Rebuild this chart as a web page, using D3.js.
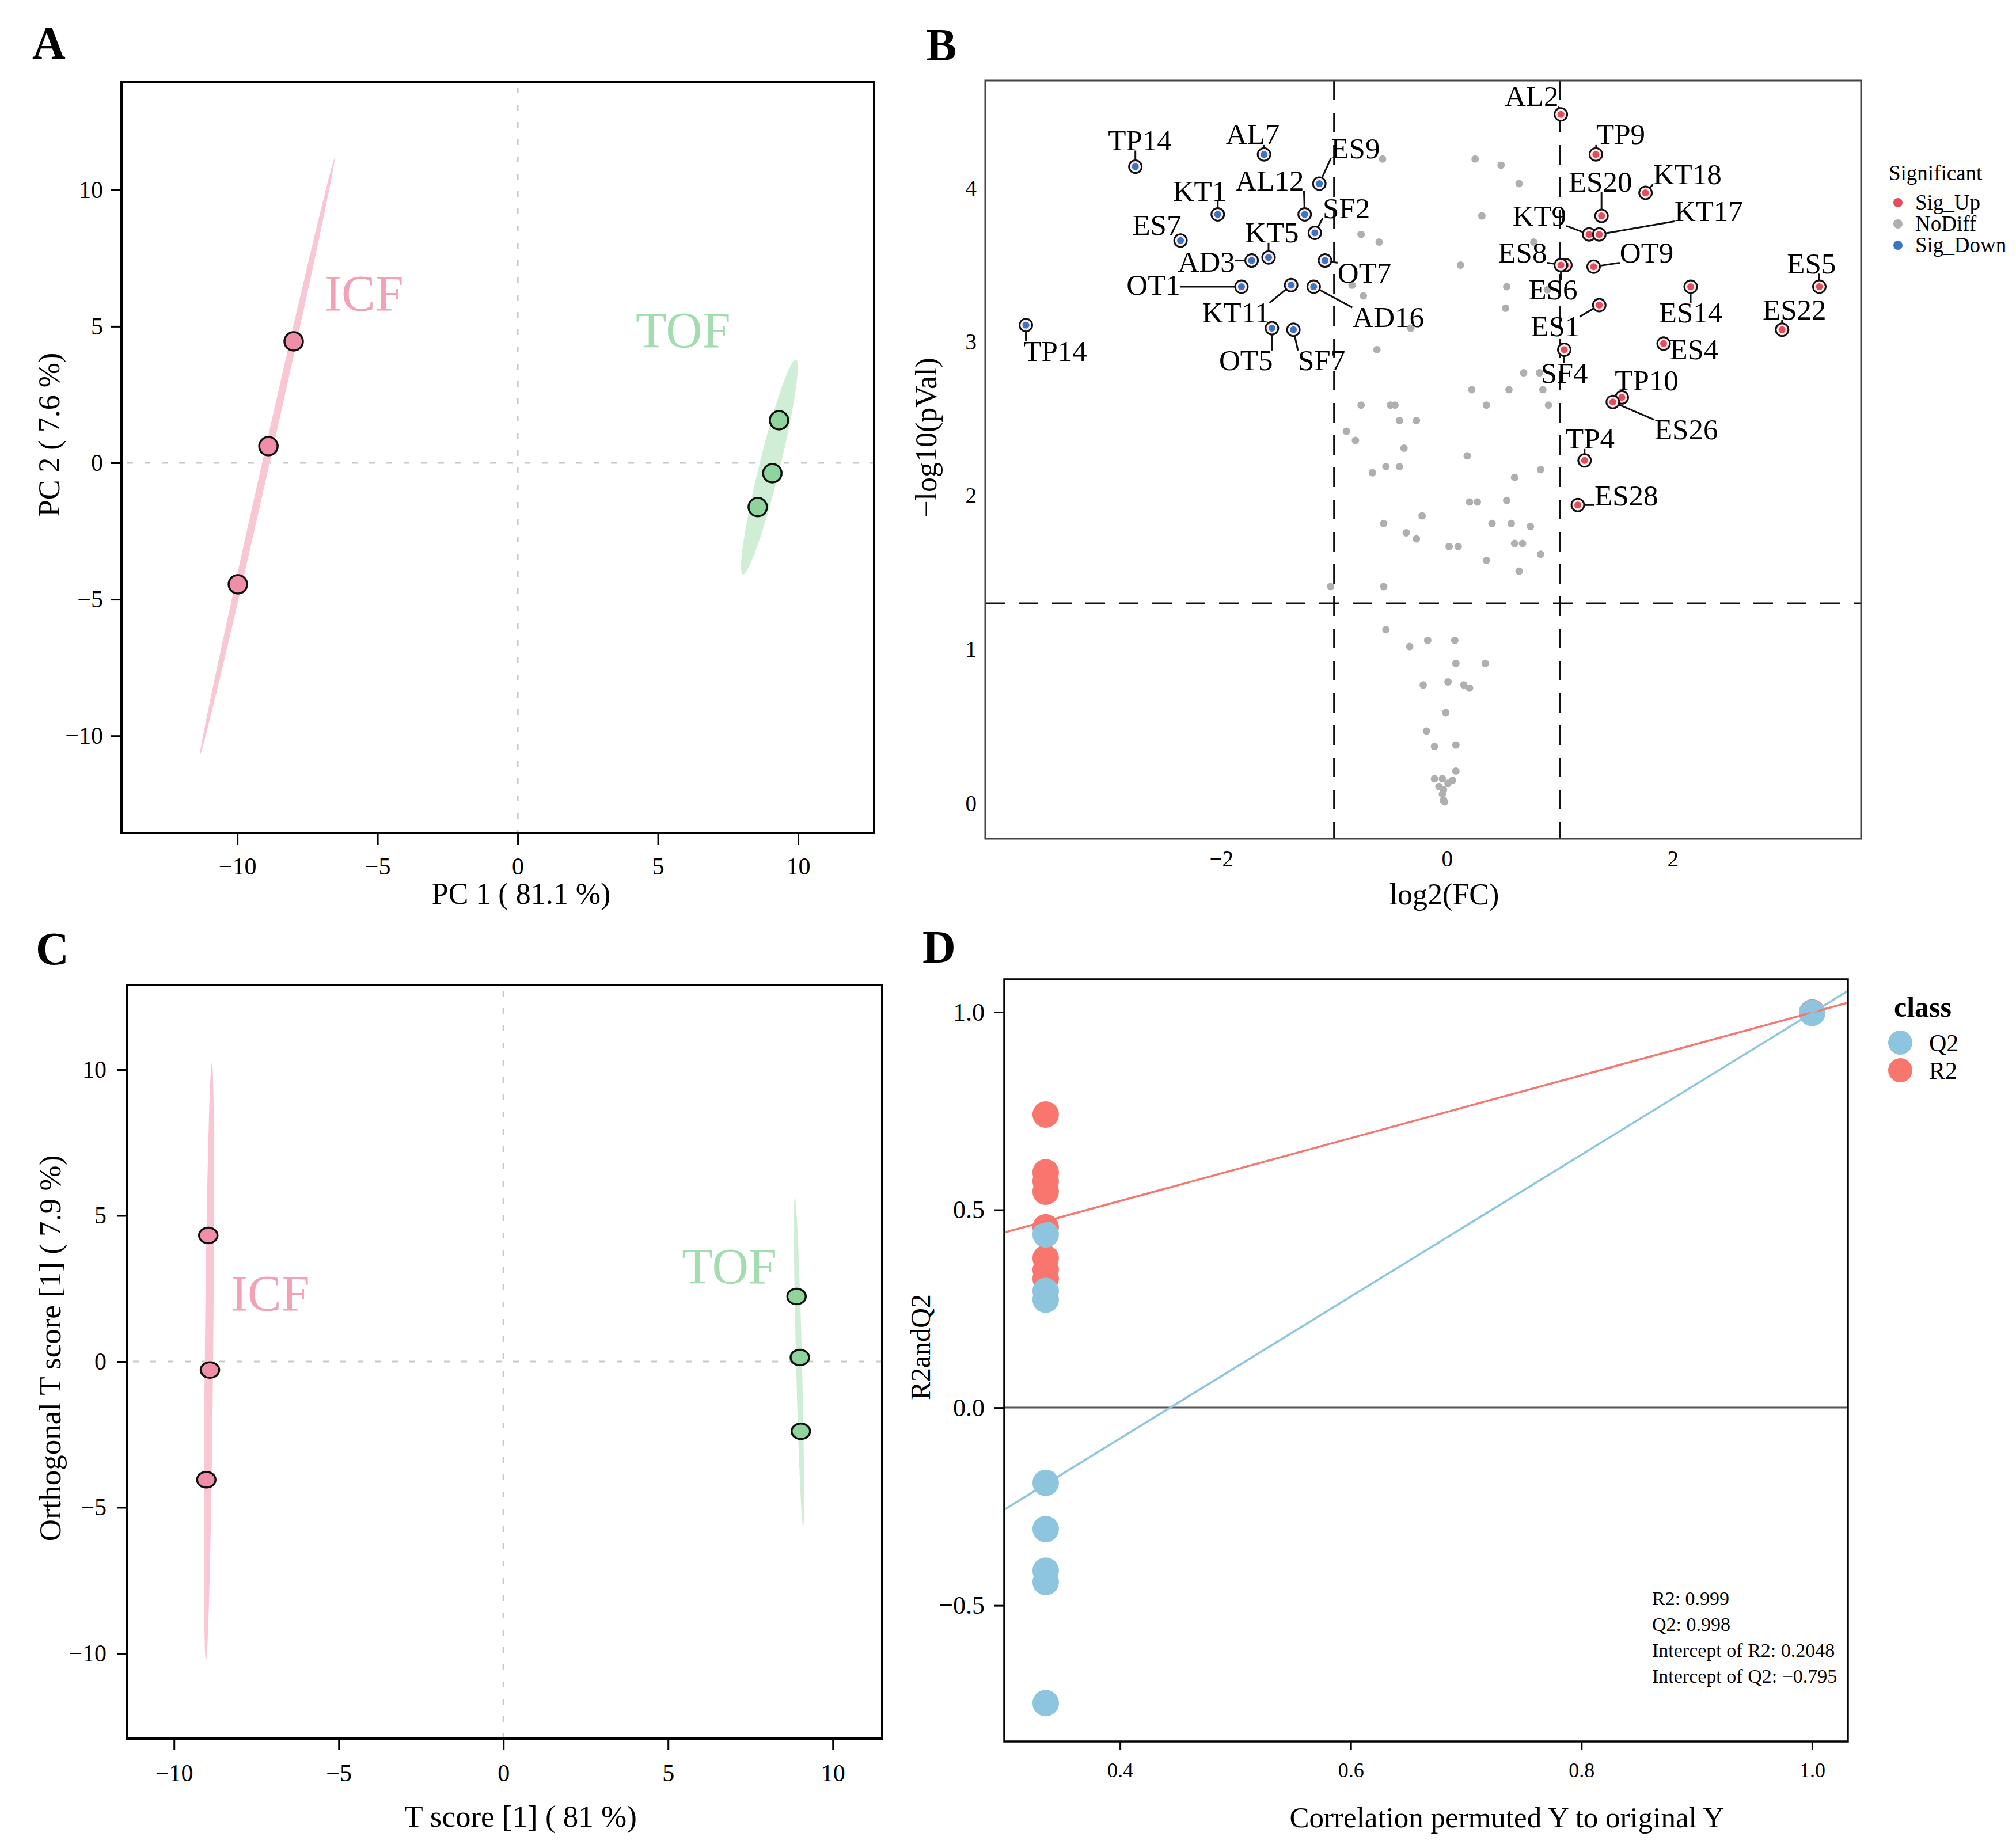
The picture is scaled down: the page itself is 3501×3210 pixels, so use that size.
<!DOCTYPE html>
<html>
<head>
<meta charset="utf-8">
<script src="https://cdn.jsdelivr.net/npm/d3@7"></script>
<style>
  body { margin: 0; background: #fff; }
  svg text { font-family: "Liberation Serif", "Times New Roman", serif; }
</style>
</head>
<body>
<svg id="fig"></svg>
<script>
/*
    DATA
*/

// A - PCA scores
var pcaGroup = ["ICF", "ICF", "ICF", "TOF", "TOF", "TOF"];
var pcaPC1 = [-7.99, -8.89, -9.98, 9.32, 9.08, 8.56];
var pcaPC2 = [4.45, 0.61, -4.45, 1.56, -0.38, -1.62];
// confidence ellipses: [x1, y1, x2, y2] ends of the long axis, plus half width in x units
var pcaEllipseEnds = [[-11.33, -10.7, -6.53, 11.16], [8.03, -4.09, 9.92, 3.78]];
var pcaEllipseHalfWidth = [0.135, 0.38];
var pcaLabelX = [-5.48, 5.9];
var pcaLabelY = [6.2, 4.87];
var pcaTicks = [-10, -5, 0, 5, 10];

// B - volcano plot
var sigNames = ["TP14", "AL7", "ES9", "KT1", "AL12", "ES7", "SF2", "KT5", "AD3", "OT7", "OT1", "KT11",
    "AD16", "TP14", "OT5", "SF7", "AL2", "TP9", "KT18", "ES20", "KT9", "KT17", "ES8", "ES6", "OT9",
    "ES14", "ES5", "ES1", "ES22", "ES4", "SF4", "TP10", "ES26", "TP4", "ES28"];
var sigFC = [-2.76, -1.62, -1.13, -2.03, -1.26, -2.36, -1.17, -1.58, -1.73, -1.08, -1.82, -1.38,
    -1.18, -3.73, -1.55, -1.36, 1.01, 1.32, 1.76, 1.37, 1.26, 1.35, 1.05, 1.01, 1.30,
    2.16, 3.30, 1.35, 2.97, 1.92, 1.04, 1.55, 1.47, 1.22, 1.16];
var sigP = [4.14, 4.22, 4.03, 3.83, 3.83, 3.66, 3.71, 3.55, 3.53, 3.53, 3.36, 3.37,
    3.36, 3.11, 3.09, 3.08, 4.48, 4.22, 3.97, 3.82, 3.70, 3.70, 3.50, 3.50, 3.49,
    3.36, 3.36, 3.24, 3.08, 2.99, 2.95, 2.64, 2.61, 2.23, 1.94];
// where the repelled labels sit (data units)
var labelFC = [-2.72, -1.72, -0.81, -2.19, -1.57, -2.57, -0.89, -1.55, -2.13, -0.73, -2.60, -1.87,
    -0.52, -3.47, -1.78, -1.11, 0.75, 1.54, 2.13, 1.36, 0.82, 2.32, 0.67, 0.94, 1.77,
    2.16, 3.23, 0.96, 3.08, 2.19, 1.04, 1.77, 2.12, 1.27, 1.59];
var labelP = [4.31, 4.35, 4.26, 3.98, 4.05, 3.76, 3.87, 3.71, 3.52, 3.45, 3.37, 3.19,
    3.16, 2.94, 2.88, 2.88, 4.60, 4.35, 4.09, 4.04, 3.82, 3.85, 3.58, 3.34, 3.58,
    3.19, 3.51, 3.10, 3.21, 2.95, 2.80, 2.75, 2.43, 2.37, 2.00];
var grayFC = [-0.57, 0.25, 0.48, 0.64, 0.31, -0.76, -0.60, 0.77, 0.12, 0.53, -0.84, -0.74, 0.52, -0.32, 0.89,
    -0.62, 0.68, 0.82, 0.22, 0.55, 0.85, -0.76, -0.50, -0.46, 0.35, 0.90, -0.42, -0.27, -0.89, -0.81,
    -0.38, 0.18, -0.54, -0.42, -0.66, 0.83, 0.60, 0.20, 0.27, 0.53, -0.22, -0.56, 0.40, 0.57, 0.74,
    -0.36, -0.27, 0.60, 0.67, 0.02, 0.10, 0.83, 0.35, 0.64, -1.03, -0.56,
    -0.54, -0.17, 0.07, -0.33, 0.08, 0.34, -0.21, 0.01, 0.15, 0.20, -0.01, -0.18, -0.11, 0.08,
    0.08, -0.11, -0.04, 0.05, 0.01, -0.07, -0.03, -0.04, -0.03, -0.02];
var grayP = [4.19, 4.19, 4.15, 4.03, 3.82, 3.70, 3.65, 3.65, 3.50, 3.36, 3.37, 3.30, 3.22, 3.09, 3.34,
    2.95, 2.80, 2.80, 2.69, 2.69, 2.69, 2.59, 2.59, 2.59, 2.59, 2.59, 2.49, 2.49, 2.42, 2.36,
    2.31, 2.26, 2.19, 2.19, 2.15, 2.17, 2.12, 1.96, 1.96, 1.97, 1.87, 1.82, 1.82, 1.82, 1.80,
    1.76, 1.72, 1.69, 1.69, 1.67, 1.67, 1.62, 1.58, 1.51, 1.41, 1.41,
    1.13, 1.06, 1.06, 1.02, 0.91, 0.91, 0.77, 0.79, 0.77, 0.75, 0.59, 0.47, 0.37, 0.38,
    0.21, 0.16, 0.16, 0.15, 0.13, 0.11, 0.09, 0.06, 0.02, 0.01];
var volcanoXTicks = [-2, 0, 2];
var volcanoYTicks = [0, 1, 2, 3, 4];
var fcCut = [-1, 1];
var pCut = 1.3;
var sigLevels = ["Sig_Up", "NoDiff", "Sig_Down"];

// C - OPLS-DA scores
var oplsGroup = ["ICF", "ICF", "ICF", "TOF", "TOF", "TOF"];
var oplsT = [-8.96, -8.91, -9.02, 8.90, 9.00, 9.03];
var oplsOrtho = [4.32, -0.29, -4.05, 2.23, 0.14, -2.39];
var oplsEllipseEnds = [[-9.03, -10.24, -8.85, 10.23], [9.10, -5.67, 8.85, 5.63]];
var oplsEllipseHalfWidth = [0.126, 0.09];
var oplsLabelX = [-7.08, 6.86];
var oplsLabelY = [2.33, 3.27];

// D - permutation test
var r2Corr = [1.0, 0.3355, 0.3355, 0.3355, 0.3355, 0.3355, 0.3355, 0.3355, 0.3355];
var r2Vals = [0.999, 0.741, 0.595, 0.572, 0.546, 0.456, 0.378, 0.348, 0.326];
var q2Corr = [1.0, 0.3355, 0.3355, 0.3355, 0.3355, 0.3355, 0.3355, 0.3355, 0.3355];
var q2Vals = [0.998, 0.438, 0.295, 0.273, -0.19, -0.307, -0.412, -0.441, -0.747];
var r2Model = 0.999, q2Model = 0.998;
var r2Intercept = 0.2048, q2Intercept = -0.795;
var permXTicks = [0.4, 0.6, 0.8, 1.0];
var permYTicks = [-0.5, 0.0, 0.5, 1.0];

/*
    STYLE
*/
var FONT = "'Liberation Serif', 'Times New Roman', serif";
var groupFill = {ICF: "#EF8EA6", TOF: "#8ED49C"};
var groupEllipse = {ICF: "#F9C6D3", TOF: "#D0EED5"};
var groupText = {ICF: "#F3A2B6", TOF: "#A3DCAE"};
var sigColor = {Sig_Up: "#E64B5E", NoDiff: "#AFAFAF", Sig_Down: "#3A76C4"};
var permColor = {Q2: "#8EC5DE", R2: "#F8766D"};

var svg = d3.select("#fig")
    .attr("width", 3501)
    .attr("height", 3210)
    .style("font-family", FONT);

svg.append("rect").attr("width", 3501).attr("height", 3210).attr("fill", "#fff");

function styleAxis(sel, size) {
    sel.attr("font-family", null).attr("font-size", null);
    sel.select(".domain").remove();
    sel.selectAll(".tick line").attr("stroke", "#000").attr("stroke-width", 3);
    sel.selectAll(".tick text")
        .style("font-family", FONT)
        .style("font-size", size + "px")
        .attr("fill", "#000");
}

function panelLetter(txt, x, y) {
    svg.append("text")
        .attr("x", x).attr("y", y)
        .attr("font-size", 80)
        .attr("font-weight", "bold")
        .text(txt);
}

function axisTitle(txt, x, y, size, rotate) {
    var t = svg.append("text")
        .attr("text-anchor", "middle")
        .attr("dominant-baseline", "central")
        .attr("font-size", size)
        .text(txt);
    if (rotate) t.attr("transform", "translate(" + x + "," + y + ") rotate(-90)");
    else t.attr("x", x).attr("y", y);
}

/*
    SCORE PLOTS (A and C share this)
*/
function scorePlot(o) {
    var w = o.box[2] - o.box[0], h = o.box[3] - o.box[1];
    var g = svg.append("g").attr("transform", "translate(" + o.box[0] + "," + o.box[1] + ")");

    var x = d3.scaleLinear().domain(o.xDom).range([0, w]);
    var y = d3.scaleLinear().domain(o.yDom).range([h, 0]);

    // zero lines
    g.append("line")
        .attr("x1", x(0)).attr("x2", x(0)).attr("y1", 10).attr("y2", h)
        .attr("stroke", "#c8c8c8").attr("stroke-width", 3).attr("stroke-dasharray", "10,20");
    g.append("line")
        .attr("x1", 10).attr("x2", w).attr("y1", y(0)).attr("y2", y(0))
        .attr("stroke", "#c8c8c8").attr("stroke-width", 3).attr("stroke-dasharray", "10,20");

    // ellipses
    o.ellEnds.forEach(function(e, i) {
        var x1 = x(e[0]), y1 = y(e[1]), x2 = x(e[2]), y2 = y(e[3]);
        var cx = (x1 + x2) / 2, cy = (y1 + y2) / 2;
        var ang = Math.atan2(y2 - y1, x2 - x1);
        var a = Math.hypot(x2 - x1, y2 - y1) / 2;
        var hw = (x(o.ellHw[i]) - x(0));
        var b = hw * Math.abs(Math.sin(ang));
        g.append("ellipse")
            .attr("cx", cx).attr("cy", cy)
            .attr("rx", a).attr("ry", b)
            .attr("transform", "rotate(" + (ang * 180 / Math.PI) + "," + cx + "," + cy + ")")
            .attr("fill", groupEllipse[o.ellGroups[i]]);
    });

    // points
    g.selectAll("ellipse.pt")
        .data(o.xs.map(function(v, i) { return {x: v, y: o.ys[i], grp: o.groups[i]}; }))
        .enter().append("ellipse")
        .attr("class", "pt")
        .attr("cx", function(d) { return x(d.x); })
        .attr("cy", function(d) { return y(d.y); })
        .attr("rx", o.ptR[0]).attr("ry", o.ptR[1])
        .attr("fill", function(d) { return groupFill[d.grp]; })
        .attr("stroke", "#111").attr("stroke-width", 3.5);

    // group labels
    o.ellGroups.forEach(function(grp, i) {
        g.append("text")
            .attr("x", x(o.labX[i])).attr("y", y(o.labY[i]))
            .attr("text-anchor", "middle")
            .attr("dominant-baseline", "central")
            .attr("font-size", 88)
            .attr("fill", groupText[grp])
            .text(grp);
    });

    // axes
    g.append("g")
        .attr("transform", "translate(0," + h + ")")
        .call(d3.axisBottom(x).tickValues(o.ticks).tickSize(20).tickPadding(o.xPad))
        .call(styleAxis, 42);
    g.append("g")
        .call(d3.axisLeft(y).tickValues(o.ticks).tickSize(18).tickPadding(o.yPad))
        .call(styleAxis, 42);

    g.append("rect")
        .attr("width", w).attr("height", h)
        .attr("fill", "none").attr("stroke", "#000").attr("stroke-width", 4);
}

/*
    PANEL A
*/
panelLetter("A", 56, 102);
scorePlot({
    box: [211, 142, 1518, 1447],
    xDom: [-14.13, 12.71], yDom: [-13.56, 13.96],
    xs: pcaPC1, ys: pcaPC2, groups: pcaGroup,
    ellEnds: pcaEllipseEnds, ellHw: pcaEllipseHalfWidth, ellGroups: ["ICF", "TOF"],
    labX: pcaLabelX, labY: pcaLabelY,
    ticks: pcaTicks, xPad: 22, yPad: 14, ptR: [16, 16]
});
axisTitle("PC 1 ( 81.1 %)", 905, 1552, 52, false);
axisTitle("PC 2 ( 7.6 %)", 85, 755, 52, true);

/*
    PANEL B - volcano
*/
panelLetter("B", 1608, 105);
(function() {
    var box = [1711, 140, 3232, 1457];
    var w = box[2] - box[0], h = box[3] - box[1];
    var g = svg.append("g").attr("transform", "translate(" + box[0] + "," + box[1] + ")");

    var x = d3.scaleLinear().domain([-4.09, 3.67]).range([0, w]);
    var y = d3.scaleLinear().domain([-0.23, 4.70]).range([h, 0]);

    // NoDiff points
    g.selectAll("circle.nd")
        .data(grayFC.map(function(v, i) { return {fc: v, p: grayP[i]}; }))
        .enter().append("circle")
        .attr("class", "nd")
        .attr("cx", function(d) { return x(d.fc); })
        .attr("cy", function(d) { return y(d.p); })
        .attr("r", 6.5)
        .attr("fill", sigColor.NoDiff);

    // thresholds
    fcCut.forEach(function(c) {
        g.append("line")
            .attr("x1", x(c)).attr("x2", x(c)).attr("y1", 0).attr("y2", h)
            .attr("stroke", "#111").attr("stroke-width", 3).attr("stroke-dasharray", "34,22");
    });
    g.append("line")
        .attr("x1", 0).attr("x2", w).attr("y1", y(pCut)).attr("y2", y(pCut))
        .attr("stroke", "#111").attr("stroke-width", 3.5).attr("stroke-dasharray", "34,24");

    var sig = sigNames.map(function(n, i) {
        return {name: n, fc: sigFC[i], p: sigP[i], lx: labelFC[i], ly: labelP[i],
                cls: sigFC[i] > 0 ? "Sig_Up" : "Sig_Down"};
    });

    var ringR = 11;
    var segs = g.append("g");
    var ptsG = g.append("g");
    var labs = g.append("g");

    // labels first so their boxes can be measured for the leader lines
    sig.forEach(function(d) {
        var px = x(d.fc), py = y(d.p);
        var t = labs.append("text")
            .attr("x", x(d.lx)).attr("y", y(d.ly))
            .attr("text-anchor", "middle")
            .attr("dominant-baseline", "central")
            .attr("font-size", 51)
            .text(d.name);
        var bb = t.node().getBBox();
        var top = y(d.ly) - 0.34 * 51, bot = y(d.ly) + 0.34 * 51;
        var qx = Math.max(bb.x, Math.min(px, bb.x + bb.width));
        var qy = Math.max(top, Math.min(py, bot));
        var dist = Math.hypot(qx - px, qy - py);
        if (dist > ringR + 4) {
            var ux = (qx - px) / dist, uy = (qy - py) / dist;
            segs.append("line")
                .attr("x1", px + ux * ringR).attr("y1", py + uy * ringR)
                .attr("x2", qx).attr("y2", qy)
                .attr("stroke", "#111").attr("stroke-width", 3);
        }
    });

    sig.forEach(function(d) {
        ptsG.append("circle")
            .attr("cx", x(d.fc)).attr("cy", y(d.p)).attr("r", ringR)
            .attr("fill", "#fbe9ec").attr("stroke", "#111").attr("stroke-width", 3);
        ptsG.append("circle")
            .attr("cx", x(d.fc)).attr("cy", y(d.p)).attr("r", 6)
            .attr("fill", sigColor[d.cls]);
    });

    g.append("g")
        .attr("transform", "translate(0," + h + ")")
        .call(d3.axisBottom(x).tickValues(volcanoXTicks).tickSize(0).tickPadding(20))
        .call(styleAxis, 39);
    g.append("g")
        .call(d3.axisLeft(y).tickValues(volcanoYTicks).tickSize(0).tickPadding(15).tickFormat(d3.format("d")))
        .call(styleAxis, 39);

    g.append("rect")
        .attr("width", w).attr("height", h)
        .attr("fill", "none").attr("stroke", "#444").attr("stroke-width", 3);

    // legend
    var lg = svg.append("g");
    lg.append("text").attr("x", 3280).attr("y", 313).attr("font-size", 37).text("Significant");
    sigLevels.forEach(function(s, i) {
        lg.append("circle").attr("cx", 3296).attr("cy", 352 + i * 37).attr("r", 8).attr("fill", sigColor[s]);
        lg.append("text").attr("x", 3326).attr("y", 364 + i * 37).attr("font-size", 37).text(s);
    });
})();
axisTitle("log2(FC)", 2508, 1553, 52, false);
axisTitle("\u2212log10(pVal)", 1608, 760, 52, true);

/*
    PANEL C
*/
panelLetter("C", 62, 1675);
scorePlot({
    box: [221, 1711, 1532, 3020],
    xDom: [-11.42, 11.5], yDom: [-12.92, 12.9],
    xs: oplsT, ys: oplsOrtho, groups: oplsGroup,
    ellEnds: oplsEllipseEnds, ellHw: oplsEllipseHalfWidth, ellGroups: ["ICF", "TOF"],
    labX: oplsLabelX, labY: oplsLabelY,
    ticks: pcaTicks, xPad: 24, yPad: 18, ptR: [16, 13.5]
});
axisTitle("T score [1] ( 81 %)", 904, 3155, 53, false);
axisTitle("Orthogonal T score [1] ( 7.9 %)", 87, 2342, 53, true);

/*
    PANEL D - permutation
*/
panelLetter("D", 1602, 1672);
(function() {
    var box = [1744, 1701, 3209, 3025];
    var w = box[2] - box[0], h = box[3] - box[1];
    var g = svg.append("g").attr("transform", "translate(" + box[0] + "," + box[1] + ")");

    var xDom = [0.2996, 1.031];
    var x = d3.scaleLinear().domain(xDom).range([0, w]);
    var y = d3.scaleLinear().domain([-0.844, 1.083]).range([h, 0]);

    g.append("clipPath").attr("id", "clipD")
        .append("rect").attr("width", w).attr("height", h);

    g.append("line")
        .attr("x1", 0).attr("x2", w).attr("y1", y(0)).attr("y2", y(0))
        .attr("stroke", "#555").attr("stroke-width", 3);

    var r2Pts = r2Vals.map(function(v, i) { return {c: r2Corr[i], v: v}; });
    var q2Pts = q2Vals.map(function(v, i) { return {c: q2Corr[i], v: v}; });

    g.selectAll("circle.r2").data(r2Pts).enter().append("circle")
        .attr("class", "r2")
        .attr("cx", function(d) { return x(d.c); })
        .attr("cy", function(d) { return y(d.v); })
        .attr("r", 23).attr("fill", permColor.R2);
    g.selectAll("circle.q2").data(q2Pts).enter().append("circle")
        .attr("class", "q2")
        .attr("cx", function(d) { return x(d.c); })
        .attr("cy", function(d) { return y(d.v); })
        .attr("r", 23).attr("fill", permColor.Q2);

    // regression lines through (0, intercept) and (1, model value)
    [[r2Intercept, r2Model, permColor.R2], [q2Intercept, q2Model, permColor.Q2]].forEach(function(l) {
        var slope = l[1] - l[0];
        g.append("line")
            .attr("clip-path", "url(#clipD)")
            .attr("x1", x(xDom[0])).attr("y1", y(l[0] + slope * xDom[0]))
            .attr("x2", x(xDom[1])).attr("y2", y(l[0] + slope * xDom[1]))
            .attr("stroke", l[2]).attr("stroke-width", 3.5);
    });

    g.append("g")
        .attr("transform", "translate(0," + h + ")")
        .call(d3.axisBottom(x).tickValues(permXTicks).tickSize(15).tickPadding(21).tickFormat(d3.format(".1f")))
        .call(styleAxis, 36);
    g.append("g")
        .call(d3.axisLeft(y).tickValues(permYTicks).tickSize(18).tickPadding(16).tickFormat(d3.format(".1f")))
        .call(styleAxis, 44);

    g.append("rect")
        .attr("width", w).attr("height", h)
        .attr("fill", "none").attr("stroke", "#000").attr("stroke-width", 3.5);

    // stats text
    var stats = [
        "R2: " + r2Model,
        "Q2: " + q2Model,
        "Intercept of R2: " + r2Intercept,
        "Intercept of Q2: " + String(q2Intercept).replace("-", "\u2212")
    ];
    stats.forEach(function(s, i) {
        svg.append("text")
            .attr("x", 2869).attr("y", 2788 + i * 45)
            .attr("font-size", 34)
            .text(s);
    });

    // legend
    svg.append("text").attr("x", 3289).attr("y", 1766)
        .attr("font-size", 50).attr("font-weight", "bold").text("class");
    ["Q2", "R2"].forEach(function(k, i) {
        svg.append("circle").attr("cx", 3300).attr("cy", 1811 + i * 48).attr("r", 21).attr("fill", permColor[k]);
        svg.append("text").attr("x", 3350).attr("y", 1826 + i * 48).attr("font-size", 42).text(k);
    });
})();
axisTitle("Correlation permuted Y to original Y", 2617, 3157, 51, false);
axisTitle("R2andQ2", 1598, 2340, 48, true);
</script>
</body>
</html>
